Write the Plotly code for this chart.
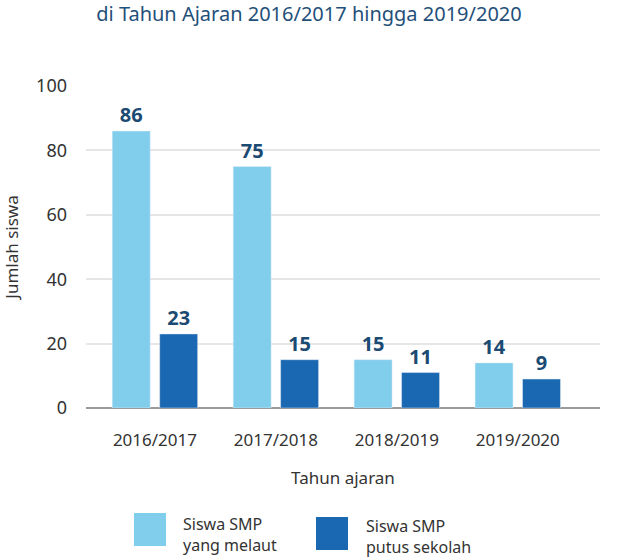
import plotly.graph_objects as go

years = ["2016/2017", "2017/2018", "2018/2019", "2019/2020"]
melaut = [86, 75, 15, 14]
putus = [23, 15, 11, 9]
series_names = ["Siswa SMP<br>yang melaut", "Siswa SMP<br>putus sekolah"]
y_ticks = [0, 20, 40, 60, 80, 100]

LIGHT = "#80CDEC"
DARK = "#1A67B2"
LABEL = "#1B4A72"
FONT = "Noto Sans, Open Sans, sans-serif"

W, H = 618, 560
L, R, T, B = 86, 18, 86, 152
PH = H - T - B

def py(pix):
    return (H - B - pix) / PH

def px(pix):
    return (pix - L) / (W - L - R)

fig = go.Figure()
fig.add_bar(x=years, y=melaut, name=series_names[0], marker_color=LIGHT,
            texttemplate="<b>%{y}</b>", textposition="outside", cliponaxis=False,
            textfont=dict(color=LABEL, size=20, family=FONT))
fig.add_bar(x=years, y=putus, name=series_names[1], marker_color=DARK,
            texttemplate="<b>%{y}</b>", textposition="outside", cliponaxis=False,
            textfont=dict(color=LABEL, size=20, family=FONT))

shapes = [
    dict(type="rect", xref="paper", yref="paper", x0=px(134), x1=px(166), y0=py(546), y1=py(513),
         fillcolor=LIGHT, line_width=0),
    dict(type="rect", xref="paper", yref="paper", x0=px(316), x1=px(348), y0=py(550), y1=py(517),
         fillcolor=DARK, line_width=0),
]
annotations = [
    dict(text=series_names[0], xref="paper", yref="paper", x=px(181), y=py(511),
         xanchor="left", yanchor="top", align="left", showarrow=False,
         font=dict(size=16, color="#333333", family=FONT)),
    dict(text=series_names[1], xref="paper", yref="paper", x=px(364), y=py(513),
         xanchor="left", yanchor="top", align="left", showarrow=False,
         font=dict(size=16, color="#333333", family=FONT)),
]

fig.update_layout(
    width=W, height=H,
    margin=dict(l=L, r=R, t=T, b=B),
    paper_bgcolor="white", plot_bgcolor="white",
    barmode="group", bargap=0.215, bargroupgap=0.2,
    showlegend=False,
    title=dict(text="di Tahun Ajaran 2016/2017 hingga 2019/2020", x=0.5, xanchor="center",
               y=1 - 14 / H, yanchor="middle",
               font=dict(size=20, color="#1F5079", family=FONT)),
    font=dict(family=FONT, color="#333333"),
    shapes=shapes, annotations=annotations,
)
fig.update_xaxes(range=[-0.57, 3.68], showgrid=False, ticks="", showline=False, automargin=False,
                 tickfont=dict(size=17, color="#333333"), ticklabelstandoff=20,
                 title=dict(text="Tahun ajaran", font=dict(size=17, color="#333333"), standoff=22))
fig.update_yaxes(range=[0, 100], tickvals=y_ticks, showgrid=True, gridcolor="#E6E6E6", gridwidth=2,
                 zeroline=True, zerolinecolor="#9A9A9A", zerolinewidth=2, ticks="", automargin=False,
                 tickfont=dict(size=18, color="#333333"), ticklabelstandoff=18,
                 title=dict(text="Jumlah siswa", font=dict(size=17, color="#333333"), standoff=14))

fig.write_html("out.html")
